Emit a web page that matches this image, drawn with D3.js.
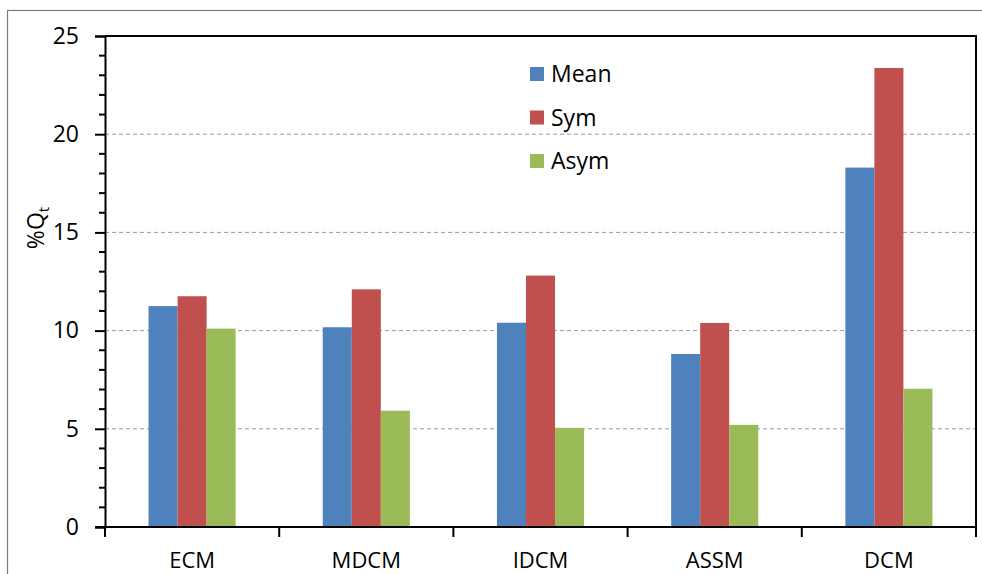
<!DOCTYPE html>
<html><head><meta charset="utf-8">
<script src="https://cdn.jsdelivr.net/npm/d3@7"></script>
<style>body{margin:0;background:#fff}svg{display:block}text{font-family:"Open Sans",Lato,"Noto Sans",sans-serif}</style>
</head><body><svg id="c" width="982" height="574"></svg>
<script>
const categories = ["ECM","MDCM","IDCM","ASSM","DCM"];
const seriesNames = ["Mean","Sym","Asym"];
const meanVals = [11.25, 10.17, 10.4, 8.81, 18.3];
const symVals  = [11.75, 12.1, 12.8, 10.39, 23.37];
const asymVals = [10.1, 5.92, 5.05, 5.2, 7.04];
const colors = ["#4f81bd","#c0504d","#9bbb59"];
const yTicks = [0,5,10,15,20,25];

const svg = d3.select("#c");
const m = {l:105, t:36, r:976, b:527};
// outer frame
svg.append("rect").attr("x",7.5).attr("y",10.5).attr("width",990).attr("height",600)
  .attr("fill","none").attr("stroke","#7f7f7f").attr("stroke-width",1.2);

const x = d3.scaleBand().domain(categories).range([m.l, m.r]).paddingInner(0).paddingOuter(0);
const y = d3.scaleLinear().domain([0,25]).range([m.b, m.t]);
const xs = d3.scaleBand().domain(seriesNames).range([0, x.bandwidth()]).paddingInner(0).paddingOuter(1.5);

// gridlines
svg.append("g").selectAll("line").data(yTicks.filter(d=>d>0 && d<25)).join("line")
  .attr("x1",m.l).attr("x2",m.r).attr("y1",d=>y(d)).attr("y2",d=>y(d))
  .attr("stroke","#9a9a9a").attr("stroke-width",1).attr("stroke-dasharray","4,3");

const data = [meanVals, symVals, asymVals];
seriesNames.forEach((s,i)=>{
  svg.append("g").selectAll("rect").data(categories).join("rect")
    .attr("x",c=>x(c)+xs(s)).attr("width",xs.bandwidth())
    .attr("y",(c,j)=>y(data[i][j])).attr("height",(c,j)=>y(0)-y(data[i][j]))
    .attr("fill",colors[i]);
});

// plot border (top/right)
svg.append("path").attr("d",`M${m.l},${m.t}H${m.r}V${m.b}`).attr("fill","none").attr("stroke","#000").attr("stroke-width",2);

// y axis
const ya = d3.axisLeft(y).tickValues(yTicks).tickSize(10).tickPadding(16).tickFormat(d3.format("d"));
const yg = svg.append("g").attr("transform",`translate(${m.l},0)`).call(ya);
yg.select(".domain").attr("stroke","#000").attr("stroke-width",2);
yg.selectAll(".tick line").attr("stroke","#000").attr("stroke-width",2);
yg.selectAll("text").attr("font-size",23).attr("fill","#000");
yg.selectAll(".minor").data(d3.range(1,25).filter(d=>d%5!==0)).join("line")
  .attr("x1",-6).attr("x2",0).attr("y1",d=>y(d)).attr("y2",d=>y(d)).attr("stroke","#000").attr("stroke-width",2);

// x axis
const xa = d3.axisBottom(x).tickSize(0).tickPadding(25);
const xg = svg.append("g").attr("transform",`translate(0,${m.b})`).call(xa);
xg.select(".domain").remove();
xg.append("line").attr("x1",m.l-10).attr("x2",m.r).attr("stroke","#000").attr("stroke-width",2);
xg.selectAll(".sep").data(d3.range(categories.length+1)).join("line")
  .attr("x1",i=>m.l+i*x.step()).attr("x2",i=>m.l+i*x.step()).attr("y1",0).attr("y2",10)
  .attr("stroke","#000").attr("stroke-width",2);
xg.selectAll(".tick text").attr("font-size",22).attr("fill","#000");

// y title
const yt = svg.append("text").attr("transform","translate(44,228) rotate(-90)").attr("text-anchor","middle")
  .attr("font-size",23).attr("fill","#000");
yt.append("tspan").text("%Q");
yt.append("tspan").text("t").attr("font-size",15).attr("dy",5);

// legend
const lg = svg.append("g").selectAll("g").data(seriesNames).join("g")
  .attr("transform",(d,i)=>`translate(530,${74+i*43.5})`);
lg.append("rect").attr("x",0).attr("y",-7).attr("width",14).attr("height",14).attr("fill",(d,i)=>colors[i]);
lg.append("text").attr("x",21).attr("y",0).attr("dy","0.36em").attr("font-size",23).attr("fill","#000").text(d=>d);
</script></body></html>
